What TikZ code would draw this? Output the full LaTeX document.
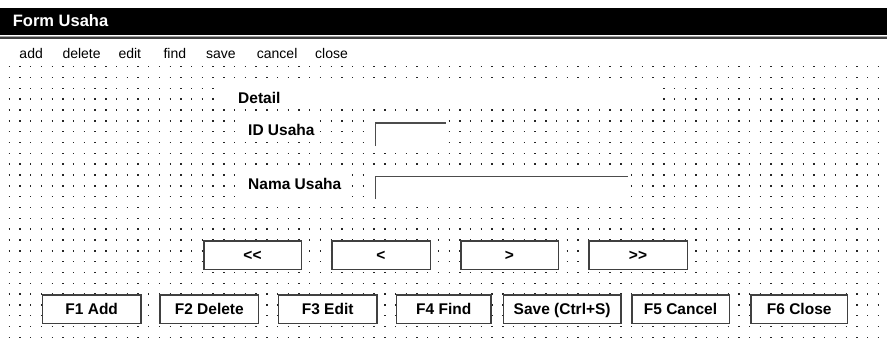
\documentclass[tikz,border=0pt]{standalone}
\usepackage{fontspec}
\setmainfont{Liberation Sans}

\begin{document}
\begin{tikzpicture}[x=1pt,y=-1pt,every node/.style={inner sep=0pt},
	dotrow/.style={line width=1.4pt,black!85,dash pattern=on 1.4pt off 9.33pt},
	btn/.style={draw=black!75,line width=1.5pt,fill=white,minimum height=28.5pt,text height=11pt,text depth=0pt,font=\fontsize{15.5}{18}\selectfont\bfseries},
	lbl/.style={anchor=base west,font=\fontsize{15.5}{18}\selectfont\bfseries},
	menu/.style={anchor=base west,font=\fontsize{14}{16}\selectfont},
	sunk/.style={line width=1.5pt,black!70}]
	\useasboundingbox (0,0) rectangle (887,346);

	\fill[black] (0,8) rectangle (887,35);
	\draw[black!35,line width=1pt] (0,36.5) -- (887,36.5);
	\draw[black!75,line width=1.3pt] (0,38) -- (887,38);
	\node (title) at (12.7,26.7) [anchor=base west,text=white,font=\fontsize{16.5}{19}\selectfont\bfseries] {Form Usaha};

	\node (madd) at (19.3,58.7) [menu] {add};
	\node (mdelete) at (62.3,58.7) [menu] {delete};
	\node (medit) at (118.3,58.7) [menu] {edit};
	\node (mfind) at (163.3,58.7) [menu] {find};
	\node (msave) at (206,58.7) [menu] {save};
	\node (mcancel) at (256.7,58.7) [menu] {cancel};
	\node (mclose) at (315,58.7) [menu] {close};

	\foreach \j in {0,...,25}
		\draw[dotrow] (8.6,{66.7+10.83*\j}) -- (880,{66.7+10.83*\j});

	\fill[white] (217,83) rectangle (659,104);
	\fill[white] (240,116) rectangle (316,137);
	\fill[white] (240,170) rectangle (348,202);
	\fill[white] (372,118) rectangle (446,148);
	\fill[white] (372,171) rectangle (629,202);

	\node (detail) at (238,103) [lbl] {Detail};
	\node (idlbl) at (248,135.7) [lbl] {ID Usaha};
	\node (namalbl) at (248,189) [lbl] {Nama Usaha};
	\draw[sunk] (375.7,146) -- (375.7,123) -- (446,123);
	\draw[sunk] (375.7,199) -- (375.7,176.7) -- (628,176.7);

	\node (first) at (252.5,255) [btn,minimum width=97.5pt] {<\kern0pt<};
	\node (prev) at (381,255) [btn,minimum width=98.5pt] {<};
	\node (next) at (509.5,255) [btn,minimum width=97.5pt] {>};
	\node (last) at (638,255) [btn,minimum width=98.5pt] {>\kern0pt>};

	\node (fadd) at (91.7,309) [btn,minimum width=98.5pt] {F1 Add};
	\node (fdelete) at (209.3,309) [btn,minimum width=98.5pt] {F2 Delete};
	\node (fedit) at (327.7,309) [btn,minimum width=98.5pt] {F3 Edit};
	\node (ffind) at (443.7,309) [btn,minimum width=94.5pt] {F4 Find};
	\node (fsave) at (562.2,309) [btn,minimum width=117.5pt] {Save (Ctrl+S)};
	\node (fcancel) at (680.5,309) [btn,minimum width=97.5pt] {F5 Cancel};
	\node (fclose) at (799.2,309) [btn,minimum width=96.5pt] {F6 Close};
\end{tikzpicture}
\end{document}
